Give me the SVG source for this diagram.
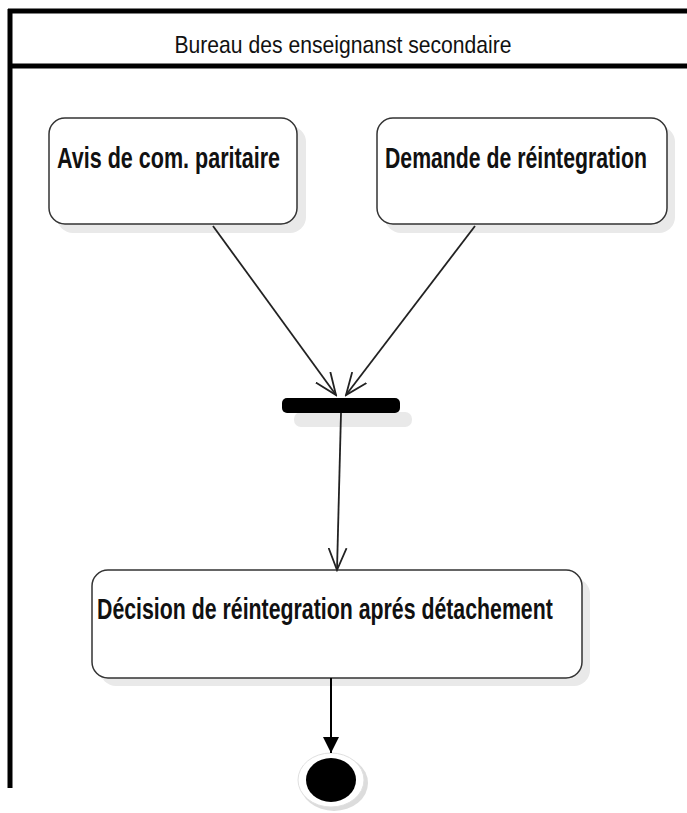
<svg xmlns="http://www.w3.org/2000/svg" width="687" height="813" viewBox="0 0 687 813">
<defs>
<style>
.frame{stroke:#000;stroke-width:5;fill:none}
.node{fill:#fff;stroke:#333;stroke-width:1.5}
.shadow{fill:#e9e9e9;stroke:none}
.lbl{font-family:"Liberation Sans",Arial,sans-serif;font-weight:bold;font-size:30px;fill:#111}
.title{font-family:"Liberation Sans",Arial,sans-serif;font-size:24px;fill:#111}
.edge{stroke:#222;stroke-width:1.8;fill:none}
</style>
<marker id="open" viewBox="0 0 24 20" refX="22" refY="10" markerWidth="24" markerHeight="20" markerUnits="userSpaceOnUse" orient="auto">
<path d="M0,1 L22,10 L0,19" fill="none" stroke="#222" stroke-width="1.8"/>
</marker>
<marker id="filled" viewBox="0 0 16 16" refX="16" refY="8" markerWidth="16" markerHeight="16" markerUnits="userSpaceOnUse" orient="auto">
<path d="M0,0 L16,8 L0,16 Z" fill="#000"/>
</marker>
</defs>
<rect width="687" height="813" fill="#fff"/>
<g id="swimlane">
<line class="frame" x1="8" y1="11" x2="687" y2="11"/>
<line class="frame" x1="10" y1="9" x2="10" y2="788"/>
<line class="frame" x1="8" y1="66" x2="687" y2="66"/>
<text class="title" transform="translate(343,53) scale(0.88,1)" x="0" y="0" text-anchor="middle" textLength="383" lengthAdjust="spacingAndGlyphs">Bureau des enseignanst secondaire</text>
</g>
<g id="node-avis">
<rect class="shadow" x="57" y="126" width="249" height="107" rx="16"/>
<rect class="node" x="49" y="118" width="248" height="106" rx="16"/>
<text class="lbl" transform="translate(57,168) scale(0.715,1)" x="0" y="0" textLength="312" lengthAdjust="spacingAndGlyphs">Avis de com. paritaire</text>
</g>
<g id="node-demande">
<rect class="shadow" x="385" y="126" width="290" height="107" rx="16"/>
<rect class="node" x="377" y="118" width="290" height="106" rx="16"/>
<text class="lbl" transform="translate(385,168) scale(0.708,1)" x="0" y="0" textLength="370" lengthAdjust="spacingAndGlyphs">Demande de réintegration</text>
</g>
<g id="join-bar">
<rect class="shadow" x="294" y="412" width="118" height="15" rx="7"/>
<rect x="282" y="398" width="118" height="15" rx="5" fill="#000"/>
</g>
<g id="node-decision">
<rect class="shadow" x="100" y="578" width="490" height="108" rx="16"/>
<rect class="node" x="92" y="570" width="490" height="108" rx="16"/>
<text class="lbl" transform="translate(97,619) scale(0.71,1)" x="0" y="0" textLength="642" lengthAdjust="spacingAndGlyphs">Décision de réintegration aprés détachement</text>
</g>
<g id="final-node">
<ellipse cx="334" cy="783" rx="34" ry="28" fill="#dcdcdc"/>
<ellipse cx="331" cy="780" rx="33" ry="27" fill="#fff" stroke="#e0e0e0" stroke-width="1"/>
<ellipse cx="331" cy="780" rx="25" ry="22" fill="#000"/>
</g>
<g id="connectors">
<line class="edge" x1="213" y1="226" x2="336" y2="395" marker-end="url(#open)"/>
<line class="edge" x1="475" y1="226" x2="346" y2="395" marker-end="url(#open)"/>
<line class="edge" x1="341" y1="413" x2="337" y2="570" marker-end="url(#open)"/>
<line x1="331" y1="678" x2="331" y2="753" stroke="#000" stroke-width="2" marker-end="url(#filled)"/>
</g>
</svg>
